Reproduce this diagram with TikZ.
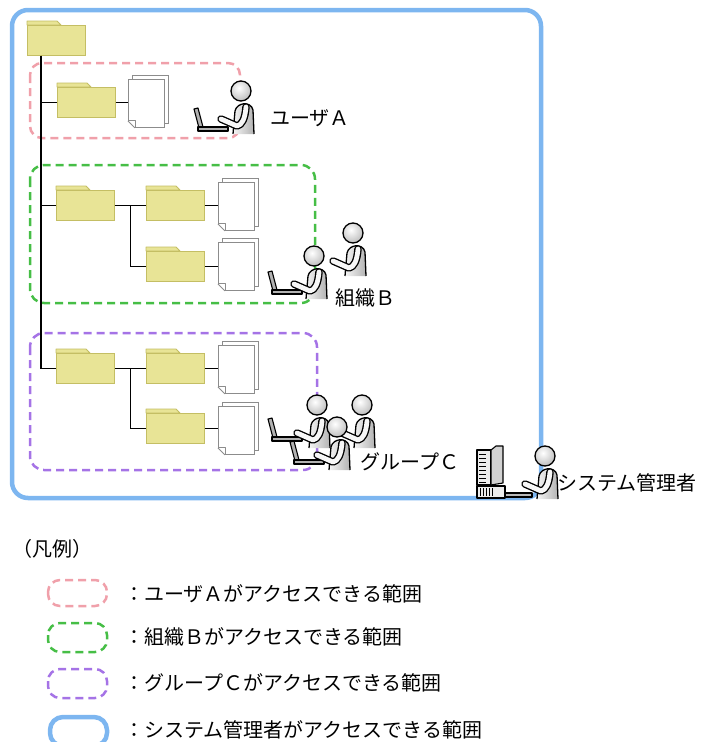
\documentclass[tikz,border=0pt]{standalone}
\usepackage{fontspec}
\setmainfont{Noto Sans CJK JP}
\usetikzlibrary{calc}

\definecolor{folderfill}{RGB}{232,228,150}
\definecolor{folderedge}{RGB}{196,190,100}
\definecolor{pagegray}{RGB}{140,140,140}
\definecolor{pinkline}{RGB}{240,160,170}
\definecolor{greenline}{RGB}{70,190,70}
\definecolor{purpleline}{RGB}{165,115,230}
\definecolor{blueline}{RGB}{125,182,240}

\tikzset{
  treeline/.style={line width=1.5pt, black},
  folderbody/.style={draw=folderedge, fill=folderfill, line width=0.8pt,
    minimum width=58pt, minimum height=30pt, inner sep=0pt, anchor=north west},
  foldertab/.style={draw=folderedge, fill=folderfill, line width=0.8pt, line join=round},
  page/.style={draw=pagegray, fill=white, line width=0.9pt,
    minimum width=36pt, minimum height=48pt, inner sep=0pt, anchor=north west},
  pageline/.style={draw=pagegray, line width=0.9pt, line join=round},
  region/.style={line width=2.5pt, dash pattern=on 8pt off 5pt, rounded corners=12pt},
  adminframe/.style={draw=blueline, line width=4.5pt, rounded corners=16pt},
  lbl/.style={anchor=west, inner sep=0pt, font=\fontsize{20pt}{24pt}\selectfont},
  outline/.style={line width=1.1pt, line join=round},
  % seated figure, head centre at the origin, facing left
  seated/.pic={
    \shade[left color=gray!8, right color=gray!60]
      (-8,43) -- (-6,20) .. controls (-4,11) and (10,10) .. (12,19) -- (13,43) -- cycle;
    \draw[line width=1.3pt, line join=round]
      (-8,43) -- (-6,20) .. controls (-4,11) and (10,10) .. (12,19) -- (13,43);
    \draw[line width=7.5pt, line cap=round, line join=round]
      (5,16) .. controls (4,28) and (1,34) .. (-4,35) -- (-20,28);
    \draw[line width=4.8pt, line cap=round, line join=round, gray!6]
      (5,16) .. controls (4,28) and (1,34) .. (-4,35) -- (-20,28);
    \begin{scope}
      \clip (0,0) circle (10);
      \shade[inner color=white, outer color=gray!55] (-2,-3) circle (14);
    \end{scope}
    \draw[line width=1.3pt] (0,0) circle (10);
  },
  % laptop, origin at the hinge
  laptop/.pic={
    \filldraw[outline, fill=gray!60] (-3,1) -- (-8,-18) -- (-4,-19) -- (1,0) -- cycle;
    \filldraw[outline, fill=gray!60] (-4,0) rectangle (26,4);
  },
}

\newcommand\mkfolder[2]{%
  \filldraw[foldertab] (#2) -- ++(0,-4) -- ++(30,0) -- ++(4,4) -- cycle;
  \node[folderbody] (#1) at (#2) {};
}
\newcommand\mkdoc[2]{%
  \node[page] (#1-back) at ($(#2)+(4,-4)$) {};
  \node[page] (#1) at (#2) {};
  \fill[white] ([shift={(-1pt,-1pt)}]#1.south west) -- ++(9,0) -- ++(-9,-9) -- cycle;
  \draw[pageline] ([yshift=7pt]#1.south west) -- ([xshift=7pt]#1.south west);
  \draw[pageline] ([yshift=7pt]#1.south west) -- ([shift={(7pt,7pt)}]#1.south west) -- ([xshift=7pt]#1.south west);
}

\begin{document}
\begin{tikzpicture}[x=1pt, y=-1pt]
\useasboundingbox (0,0) rectangle (705,742);
\clip (0,0) rectangle (705,742);

% access ranges
\draw[adminframe] (12,10) rectangle (541,498);
\draw[region, pinkline] (30,63) rectangle (240,138);
\draw[region, greenline, rounded corners=14pt] (30,165) rectangle (315,303);
\draw[region, purpleline, rounded corners=14pt] (30,333) rectangle (317,470);

% folder tree
\mkfolder{f0}{27,25}
\mkfolder{fA}{57,87}
\mkfolder{fB}{56,190}
\mkfolder{fB1}{146,190}
\mkfolder{fB2}{146,251}
\mkfolder{fC}{56,353}
\mkfolder{fC1}{146,353}
\mkfolder{fC2}{146,413}

\mkdoc{dA}{128,79}
\mkdoc{dB1}{218,182}
\mkdoc{dB2}{218,242}
\mkdoc{dC1}{218,345}
\mkdoc{dC2}{218,406}

\draw[treeline] ([xshift=14pt]f0.south west) |- (fA.west);
\draw[treeline] ([xshift=14pt]f0.south west) |- (fB.west);
\draw[treeline] ([xshift=14pt]f0.south west) |- (fC.west);
\draw[treeline] (fA.east) -- (fA.east -| dA.west);
\draw[treeline] (fB.east) -- (fB1.west);
\draw[treeline] ($(fB.east)!0.5!(fB1.west)$) |- (fB2.west);
\draw[treeline] (fB1.east) -- (fB1.east -| dB1.west);
\draw[treeline] (fB2.east) -- (fB2.east -| dB2.west);
\draw[treeline] (fC.east) -- (fC1.west);
\draw[treeline] ($(fC.east)!0.5!(fC1.west)$) |- (fC2.west);
\draw[treeline] (fC1.east) -- (fC1.east -| dC1.west);
\draw[treeline] (fC2.east) -- (fC2.east -| dC2.west);

% user A
\pic at (202,127) {laptop};
\pic at (241,91) {seated};
\node[lbl] (lblA) at (270,118) {ユーザＡ};

% organisation B
\pic at (276,290) {laptop};
\pic at (353,233) {seated};
\pic at (314,256) {seated};
\node[lbl] (lblB) at (335,298) {組織Ｂ};

% group C
\pic at (276,437) {laptop};
\pic at (298,460) {laptop};
\pic at (362,405) {seated};
\pic at (317,405) {seated};
\pic at (337,427) {seated};
\node[lbl] (lblC) at (360,462) {グループＣ};

% system administrator with desktop computer
\filldraw[outline, fill=gray!15] (477,450) rectangle (491,485);
\foreach \yy in {454,458,...,482} \draw[line width=1pt] (479,\yy) -- (486,\yy);
\filldraw[outline, fill=gray!35] (491,450) -- (496,446) -- (503,446) -- (503,483) -- (491,485) -- cycle;
\filldraw[outline, fill=gray!15] (477,486) rectangle (505,498);
\foreach \xx in {480,483,...,492} \draw[line width=0.8pt] (\xx,488) -- (\xx,496);
\filldraw[outline, fill=gray!55] (505,493) rectangle (532,497);
\pic at (545,456) {seated};
\node[lbl] (lblS) at (557,483) {システム管理者};

% legend
\node[lbl] (legendtitle) at (12,549) {（凡例）};
\draw[region, pinkline] (48,580) rectangle (107,606);
\draw[region, greenline] (48,623) rectangle (107,652);
\draw[region, purpleline] (48,669) rectangle (107,698);
\draw[adminframe, rounded corners=13pt] (50,717) rectangle (107,746);
\node[lbl] (legA) at (124,594) {：ユーザＡがアクセスできる範囲};
\node[lbl] (legB) at (124,637) {：組織Ｂがアクセスできる範囲};
\node[lbl] (legC) at (124,683) {：グループＣがアクセスできる範囲};
\node[lbl] (legS) at (124,730) {：システム管理者がアクセスできる範囲};
\end{tikzpicture}
\end{document}
